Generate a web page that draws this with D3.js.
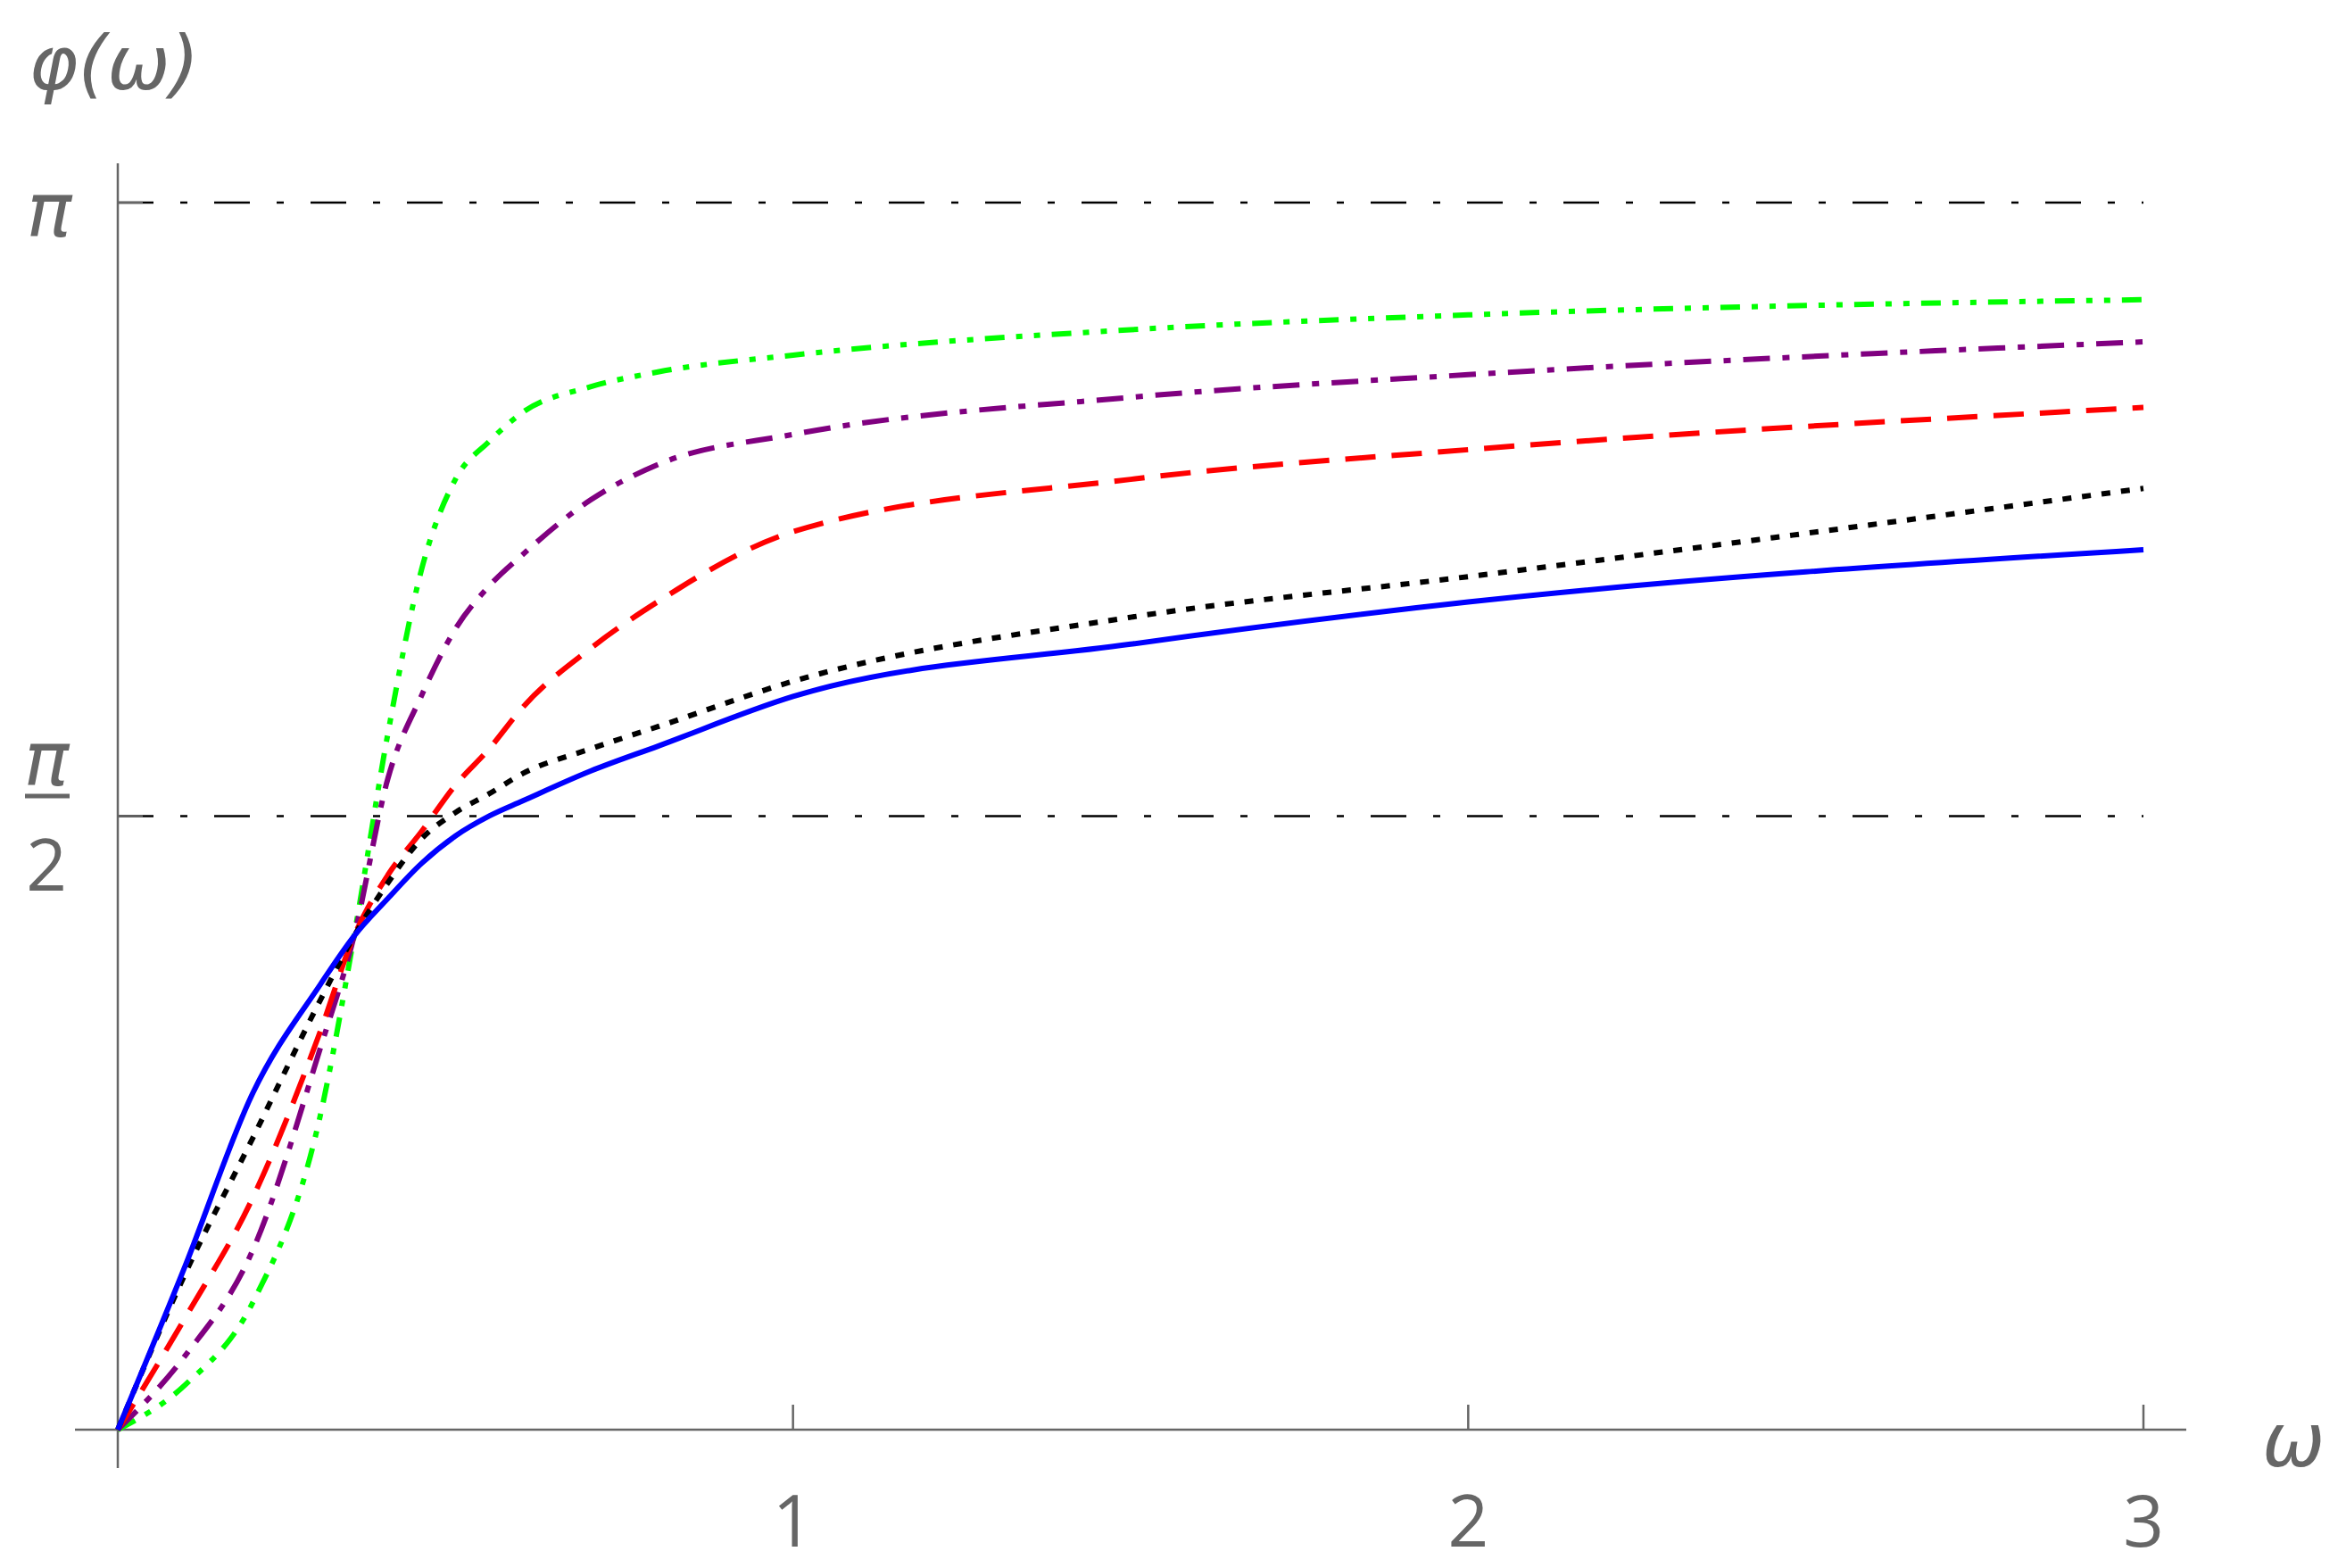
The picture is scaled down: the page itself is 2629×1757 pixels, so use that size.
<!DOCTYPE html><html><head><meta charset="utf-8">
<script src="https://cdn.jsdelivr.net/npm/d3@7"></script>
<style>body{margin:0;background:#fff}</style></head><body>
<svg id="c" width="2629" height="1757"></svg>
<script>
const omega = [0,0.1,0.2,0.3,0.35,0.4,0.45,0.5,0.55,0.6,0.7,0.8,1,1.5,2,3];
const blue  = [0,0.42,0.862,1.14,1.264,1.36,1.45,1.52,1.571,1.61,1.686,1.75,1.877,2.011,2.119,2.253];
const black = [0,0.40,0.747,1.10,1.264,1.40,1.513,1.58,1.628,1.68,1.743,1.80,1.916,2.08,2.184,2.41];
const red   = [0,0.287,0.594,1.02,1.264,1.42,1.532,1.65,1.743,1.85,2.00,2.12,2.299,2.433,2.509,2.617];
const purple= [0,0.19,0.46,0.977,1.264,1.667,1.88,2.05,2.16,2.241,2.38,2.471,2.548,2.643,2.701,2.785];
const green = [0,0.115,0.326,0.805,1.264,1.782,2.203,2.433,2.53,2.605,2.67,2.708,2.751,2.816,2.854,2.893];
const series = [
 {v:blue,c:"#0000ff",d:null},
 {v:black,c:"#000000",d:"10 12"},
 {v:red,c:"#ff0000",d:"34 18"},
 {v:purple,c:"#800080",d:"30 14 8 14"},
 {v:green,c:"#00ff00",d:"22 13 7 13 7 13"}
];
const xTicks=[1,2,3];
const svg=d3.select("#c");
const x=d3.scaleLinear().domain([0,3]).range([132,2402]);
const y=d3.scaleLinear().domain([0,Math.PI]).range([1602,227]);
const g="#666";
// reference lines
[Math.PI/2,Math.PI].forEach(v=>svg.append("line").attr("x1",x(0)).attr("x2",x(3)).attr("y1",y(v)).attr("y2",y(v))
 .attr("stroke","#000").attr("stroke-width",2.5).attr("stroke-dasharray","40 30 8 30"));
// axes
svg.append("line").attr("x1",84).attr("x2",2450).attr("y1",y(0)).attr("y2",y(0)).attr("stroke",g).attr("stroke-width",2.5);
svg.append("line").attr("x1",x(0)).attr("x2",x(0)).attr("y1",183).attr("y2",1645).attr("stroke",g).attr("stroke-width",2.5);
xTicks.forEach(t=>{
 svg.append("line").attr("x1",x(t)).attr("x2",x(t)).attr("y1",y(0)).attr("y2",y(0)-28).attr("stroke",g).attr("stroke-width",2.5);
 svg.append("text").attr("x",x(t)).attr("y",1733).attr("text-anchor","middle").attr("fill",g)
  .attr("font-family","Open Sans, sans-serif").attr("font-size",80).text(t);
});
[Math.PI/2,Math.PI].forEach(v=>svg.append("line").attr("x1",x(0)).attr("x2",x(0)+28).attr("y1",y(v)).attr("y2",y(v)).attr("stroke",g).attr("stroke-width",2.5));
const tf="DejaVu Sans, sans-serif";
svg.append("text").attr("x",55).attr("y",265).attr("text-anchor","middle").attr("fill",g).attr("font-family",tf).attr("font-style","italic").attr("font-size",84).text("π");
svg.append("text").attr("x",52).attr("y",880).attr("text-anchor","middle").attr("fill",g).attr("font-family",tf).attr("font-style","italic").attr("font-size",84).text("π");
svg.append("line").attr("x1",28).attr("x2",78).attr("y1",892).attr("y2",892).attr("stroke",g).attr("stroke-width",5);
svg.append("text").attr("x",52).attr("y",998).attr("text-anchor","middle").attr("fill",g).attr("font-family","Open Sans, sans-serif").attr("font-size",80).text("2");
svg.append("text").attr("x",32).attr("y",100).attr("fill",g).attr("font-family",tf).attr("font-style","italic").attr("font-size",84).text("φ(ω)");
svg.append("text").attr("x",2535).attr("y",1643).attr("fill",g).attr("font-family",tf).attr("font-style","italic").attr("font-size",84).text("ω");
const line=d3.line().x((d,i)=>x(omega[i])).y(d=>y(d)).curve(d3.curveMonotoneX);
series.slice().reverse().forEach(s=>svg.append("path").attr("d",line(s.v)).attr("fill","none").attr("stroke",s.c)
 .attr("stroke-width",6).attr("stroke-dasharray",s.d));
</script></body></html>
